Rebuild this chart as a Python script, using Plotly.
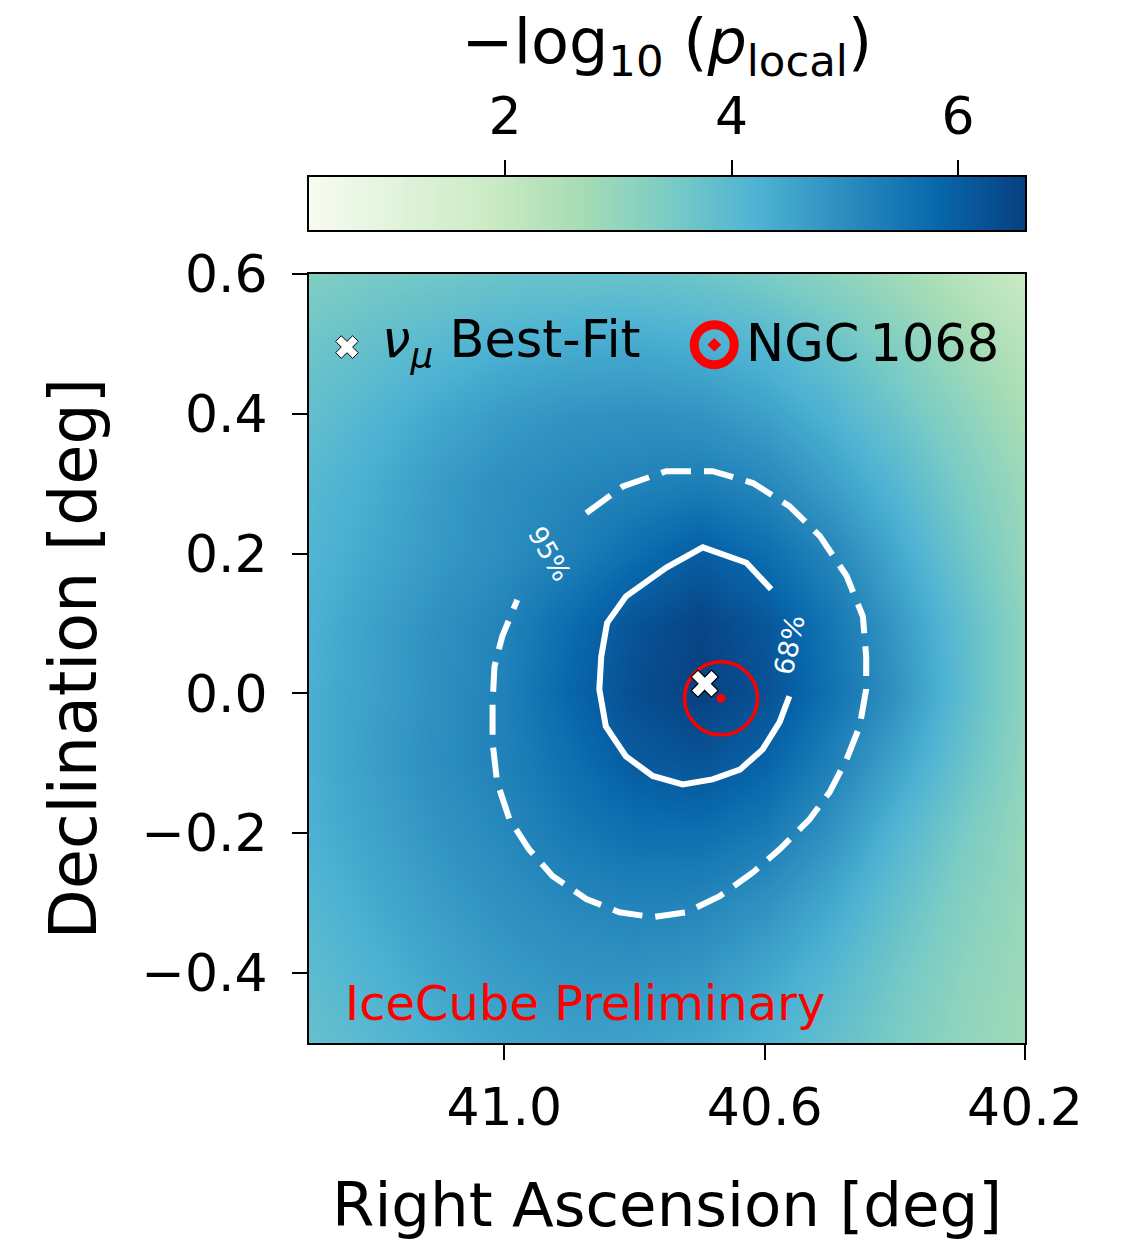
import numpy as np
import plotly.graph_objects as go

# ---------------- data ----------------
ra_grid = [41.3, 41.2, 41.1, 41.0, 40.9, 40.8, 40.7, 40.6, 40.5, 40.4, 40.3, 40.2]
dec_grid = [-0.5, -0.4, -0.3, -0.2, -0.1, 0.0, 0.1, 0.2, 0.3, 0.4, 0.5, 0.6]
# -log10(p_local), rows follow dec_grid (bottom -> top), columns follow ra_grid
neglogp = [
    [3.80, 4.05, 4.30, 4.50, 4.60, 4.58, 4.45, 4.20, 3.85, 3.45, 3.05, 2.80],
    [3.95, 4.22, 4.50, 4.72, 4.85, 4.88, 4.78, 4.50, 4.10, 3.60, 3.15, 2.85],
    [4.08, 4.40, 4.68, 4.92, 5.10, 5.22, 5.17, 4.90, 4.45, 3.85, 3.30, 2.90],
    [4.25, 4.55, 4.85, 5.10, 5.42, 5.62, 5.65, 5.42, 4.88, 4.15, 3.50, 2.95],
    [4.30, 4.65, 4.98, 5.25, 5.62, 6.05, 6.20, 5.88, 5.28, 4.57, 3.80, 3.05],
    [4.30, 4.62, 4.95, 5.25, 5.82, 6.30, 6.58, 6.25, 5.60, 4.90, 4.00, 3.10],
    [4.25, 4.60, 4.92, 5.20, 5.70, 6.20, 6.50, 6.15, 5.51, 4.77, 3.95, 3.10],
    [4.15, 4.45, 4.75, 5.00, 5.27, 5.67, 6.02, 5.68, 5.16, 4.45, 3.70, 2.95],
    [4.05, 4.35, 4.70, 4.95, 5.10, 5.22, 5.32, 5.12, 4.65, 4.10, 3.45, 2.85],
    [3.85, 4.15, 4.45, 4.70, 4.85, 4.90, 4.85, 4.60, 4.20, 3.70, 3.15, 2.60],
    [3.65, 3.85, 4.05, 4.25, 4.35, 4.40, 4.30, 4.10, 3.75, 3.30, 2.80, 2.30],
    [3.35, 3.50, 3.60, 3.70, 3.75, 3.75, 3.65, 3.45, 3.15, 2.80, 2.35, 1.90],
]

# 68% contour (solid), open on the right where the label sits
c68_ra = [40.590, 40.628, 40.695, 40.751, 40.813, 40.842, 40.851, 40.854, 40.844,
          40.813, 40.772, 40.726, 40.680, 40.638, 40.603, 40.577, 40.562]
c68_dec = [0.149, 0.187, 0.209, 0.180, 0.139, 0.101, 0.053, 0.006, -0.047,
           -0.090, -0.118, -0.130, -0.123, -0.109, -0.080, -0.041, -0.004]

# 95% contour (dashed), open on the upper left where the label sits
c95_ra = [40.874, 40.818, 40.751, 40.680, 40.618, 40.562, 40.515, 40.474, 40.449,
          40.444, 40.444, 40.454, 40.474, 40.500, 40.531, 40.577, 40.618, 40.669,
          40.720, 40.772, 40.823, 40.874, 40.926, 40.962, 40.992, 41.011, 41.018,
          41.018, 41.015, 41.003, 40.980]
c95_dec = [0.258, 0.296, 0.318, 0.318, 0.301, 0.268, 0.225, 0.168, 0.110,
           0.053, 0.006, -0.047, -0.094, -0.141, -0.180, -0.223, -0.256, -0.290,
           -0.313, -0.320, -0.313, -0.294, -0.261, -0.223, -0.180, -0.127, -0.070,
           -0.013, 0.039, 0.082, 0.134]

bestfit_ra, bestfit_dec = [40.692], [0.014]
ngc_ra, ngc_dec = [40.667], [-0.007]

cbar_min, cbar_max = 0.27, 6.59
cbar_ticks = [2, 4, 6]
ra_ticks = [41.0, 40.6, 40.2]
ra_ticktext = ["41.0", "40.6", "40.2"]
dec_ticks = [-0.4, -0.2, 0.0, 0.2, 0.4, 0.6]
dec_ticktext = ["\u22120.4", "\u22120.2", "0.0", "0.2", "0.4", "0.6"]

# ---------------- figure ----------------
FONT = "DejaVu Sans"
W, H = 1138, 1244
ML, MR, MT, MB = 309, 113, 177, 201
plot_h = H - MT - MB
main_top = (1043 - 274) / plot_h
cb_bottom = (1043 - 230) / plot_h

fig = go.Figure()

fig.add_trace(go.Heatmap(
    x=ra_grid, y=dec_grid, z=neglogp, colorscale="GnBu",
    zmin=cbar_min, zmax=cbar_max, zsmooth="best", showscale=False,
    hoverinfo="skip", xaxis="x", yaxis="y"))

fig.add_trace(go.Scatter(
    x=c95_ra, y=c95_dec, mode="lines", showlegend=False, hoverinfo="skip",
    line=dict(color="white", width=6, dash="30px,13px")))
fig.add_trace(go.Scatter(
    x=c68_ra, y=c68_dec, mode="lines", showlegend=False, hoverinfo="skip",
    line=dict(color="white", width=6)))

fig.add_trace(go.Scatter(
    x=ngc_ra, y=ngc_dec, mode="markers", showlegend=False,
    marker=dict(symbol="circle-open", size=73, color="red", line=dict(width=3.5))))
fig.add_trace(go.Scatter(
    x=ngc_ra, y=ngc_dec, mode="markers", showlegend=False,
    marker=dict(symbol="circle", size=9, color="red", line=dict(width=0))))
fig.add_trace(go.Scatter(
    x=bestfit_ra, y=bestfit_dec, mode="markers", showlegend=False,
    marker=dict(symbol="x", size=24, color="white", line=dict(color="black", width=1.2))))

# colour bar drawn as a strip on its own axis
cb_vals = np.linspace(cbar_min, cbar_max, 400)
fig.add_trace(go.Heatmap(
    x=cb_vals, y=[0, 1], z=[cb_vals, cb_vals], colorscale="GnBu",
    zmin=cbar_min, zmax=cbar_max, zsmooth="best", showscale=False,
    hoverinfo="skip", xaxis="x2", yaxis="y2"))

# legend keys on an overlay axis spanning the plot area [0, 1]
fig.add_trace(go.Scatter(
    x=[0.053], y=[0.905], mode="markers", showlegend=False, xaxis="x3", yaxis="y3",
    marker=dict(symbol="x", size=20, color="white", line=dict(color="black", width=1))))
fig.add_trace(go.Scatter(
    x=[0.566], y=[0.908], mode="markers", showlegend=False, xaxis="x3", yaxis="y3",
    marker=dict(symbol="circle-open-dot", size=40, color="red", line=dict(width=9))))

axis_common = dict(showline=True, mirror=True, linecolor="black", linewidth=2,
                   showgrid=False, zeroline=False, ticks="outside", ticklen=15,
                   tickwidth=2, tickcolor="black",
                   tickfont=dict(family=FONT, size=52, color="black"))

fig.update_layout(
    width=W, height=H,
    margin=dict(l=ML, r=MR, t=MT, b=MB),
    paper_bgcolor="white", plot_bgcolor="white",
    font=dict(family=FONT, color="black"),
    showlegend=False,
    xaxis=dict(axis_common, domain=[0, 1], anchor="y", range=[41.3, 40.2],
               tickvals=ra_ticks, ticktext=ra_ticktext, ticklabelstandoff=3,
               title=dict(text="Right Ascension [deg]", standoff=47,
                          font=dict(family=FONT, size=61, color="black"))),
    yaxis=dict(axis_common, domain=[0, main_top], anchor="x", range=[-0.5, 0.6],
               tickvals=dec_ticks, ticktext=dec_ticktext, ticklabelstandoff=14,
               title=dict(text="Declination [deg]", standoff=24,
                          font=dict(family=FONT, size=65, color="black"))),
    xaxis2=dict(axis_common, domain=[0, 1], anchor="y2", side="top",
                range=[cbar_min, cbar_max], tickvals=cbar_ticks,
                ticktext=[str(t) for t in cbar_ticks], ticklabelstandoff=5,
                title=dict(text="\u2212log<sub>10</sub> (<i>p</i><sub>local</sub>)",
                           standoff=2, font=dict(family=FONT, size=62, color="black"))),
    yaxis2=dict(showline=True, mirror=True, linecolor="black", linewidth=2,
                domain=[cb_bottom, 1], anchor="x2", range=[0, 1],
                showticklabels=False, ticks="", showgrid=False, zeroline=False),
    xaxis3=dict(overlaying="x", anchor="y3", range=[0, 1], visible=False),
    yaxis3=dict(overlaying="y", anchor="x3", range=[0, 1], visible=False),
)

annotations = [
    dict(x=0.099, y=0.910, xref="x3", yref="y3", xanchor="left", yanchor="middle",
         text="<i>\u03bd</i><sub><i>\u03bc</i></sub> Best-Fit", showarrow=False,
         font=dict(family=FONT, size=51, color="black")),
    dict(x=0.607, y=0.910, xref="x3", yref="y3", xanchor="left", yanchor="middle",
         text="NGC\u20091068", showarrow=False,
         font=dict(family=FONT, size=51, color="black")),
    dict(x=0.048, y=0.052, xref="x3", yref="y3", xanchor="left", yanchor="middle",
         text="IceCube Preliminary", showarrow=False,
         font=dict(family=FONT, size=48, color="red")),
    dict(x=40.930, y=0.200, xref="x", yref="y", text="95%", textangle=60,
         showarrow=False, font=dict(family=FONT, size=26, color="white")),
    dict(x=40.562, y=0.070, xref="x", yref="y", text="68%", textangle=-78,
         showarrow=False, font=dict(family=FONT, size=27, color="white")),
]
fig.update_layout(annotations=annotations)

fig.write_html("out.html")
